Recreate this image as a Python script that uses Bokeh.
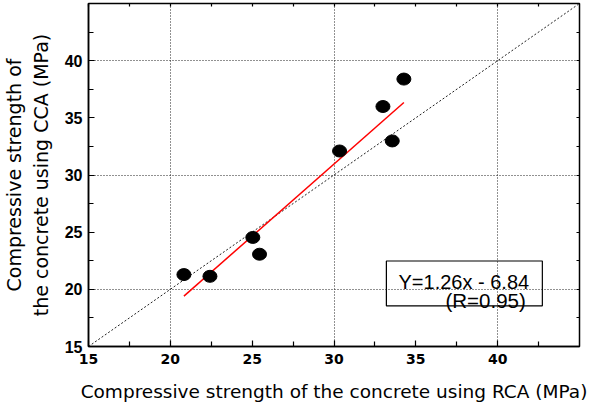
from bokeh.plotting import figure
from bokeh.models import (Range1d, FixedTicker, LinearAxis, Grid, CustomJSTickFormatter)
from bokeh.core.properties import value
from bokeh.embed import file_html
from bokeh.resources import INLINE

# data
rca = [20.83, 22.42, 25.04, 25.45, 30.34, 32.99, 33.56, 34.27]
cca = [21.29, 21.14, 24.54, 23.07, 32.10, 35.99, 32.98, 38.39]
slope = 1.26
intercept = -6.84
major_ticks = [15, 20, 25, 30, 35, 40]
minor_ticks = [17.5, 22.5, 27.5, 32.5, 37.5, 42.5]
grid_ticks = [20, 30, 40]
diag = [15, 45]
eq_text = "Y=1.26x - 6.84"
r_text = "(R=0.95)"
xlabel = "Compressive strength of the concrete using RCA (MPa)"
ylabel = "Compressive strength of\nthe concrete using CCA (MPa)"

p = figure(width=590, height=408, output_backend="svg", toolbar_location=None,
           x_range=Range1d(15, 45), y_range=Range1d(15, 45),
           min_border_left=88, min_border_right=11, min_border_top=3,
           min_border_bottom=62, x_axis_location=None, y_axis_location=None)
p.grid.visible = False
p.outline_line_color = "black"
p.outline_line_width = 1.5
p.background_fill_color = "white"
p.border_fill_color = "white"

def make_axis(kind):
    ax = LinearAxis(ticker=FixedTicker(ticks=major_ticks, minor_ticks=minor_ticks))
    ax.axis_line_color = "black"
    ax.axis_line_width = 1.5
    ax.major_tick_in = 6
    ax.major_tick_out = 0
    ax.minor_tick_in = 5
    ax.minor_tick_out = 0
    ax.major_tick_line_color = "black"
    ax.minor_tick_line_color = "black"
    ax.major_tick_line_width = 1.2
    ax.minor_tick_line_width = 1.2
    ax.major_label_text_color = "black"
    ax.axis_label_text_color = "black"
    ax.axis_label_text_font = "DejaVu Sans"
    ax.axis_label_text_font_style = "normal"
    ax.axis_label_text_font_size = "18.5px"
    if kind == "x":
        ax.major_label_text_font = "DejaVu Sans"
        ax.major_label_text_font_style = "bold"
        ax.major_label_text_font_size = "14px"
        ax.major_label_standoff = 7
        ax.axis_label = xlabel
        ax.axis_label_standoff = 14
    elif kind == "y":
        ax.major_label_text_font = "Liberation Sans"
        ax.major_label_text_font_style = "bold"
        ax.major_label_text_font_size = "16px"
        ax.major_label_standoff = 6
        ax.axis_label = ylabel
        ax.axis_label_standoff = 10
        ax.axis_label_text_font_size = "19px"
    else:
        ax.formatter = CustomJSTickFormatter(code="return ''")
        ax.major_label_text_font_size = "1px"
        ax.major_label_standoff = 0
        ax.major_tick_in = 3
        ax.minor_tick_in = 3
        ax.axis_line_color = None
    return ax

p.add_layout(make_axis("y"), "left")
p.add_layout(make_axis("x"), "below")
p.add_layout(make_axis("none"), "right")
p.add_layout(make_axis("none"), "above")

for dim in (0, 1):
    g = Grid(dimension=dim, ticker=FixedTicker(ticks=grid_ticks),
             grid_line_color="#222222", grid_line_dash="1 2", grid_line_width=1)
    p.add_layout(g)

# 1:1 line
p.line(diag, diag, line_color="#222222", line_dash="2 2", line_width=1)

# regression line
fx = [min(rca), max(rca)]
fy = [slope * v + intercept for v in fx]
p.line(fx, fy, line_color="red", line_width=1.5)

# points
p.ellipse(x=rca, y=cca, width=14, height=12, width_units="screen",
          height_units="screen", fill_color="black", line_color="black")

# equation box
p.quad(left=[33.2], right=[42.73], top=[22.48], bottom=[18.56],
       fill_color=None, line_color="black", line_width=1.2)
p.text(x=[33.94], y=[20.62], text=[eq_text], text_font=value("Liberation Sans"),
       text_font_size="20px", text_color="black", text_baseline="alphabetic")
p.text(x=[36.81], y=[19.05], text=[r_text], text_font=value("Liberation Sans"),
       text_font_size="20.5px", text_color="black", text_baseline="alphabetic")

open("out.html", "w").write(file_html(p, INLINE))
